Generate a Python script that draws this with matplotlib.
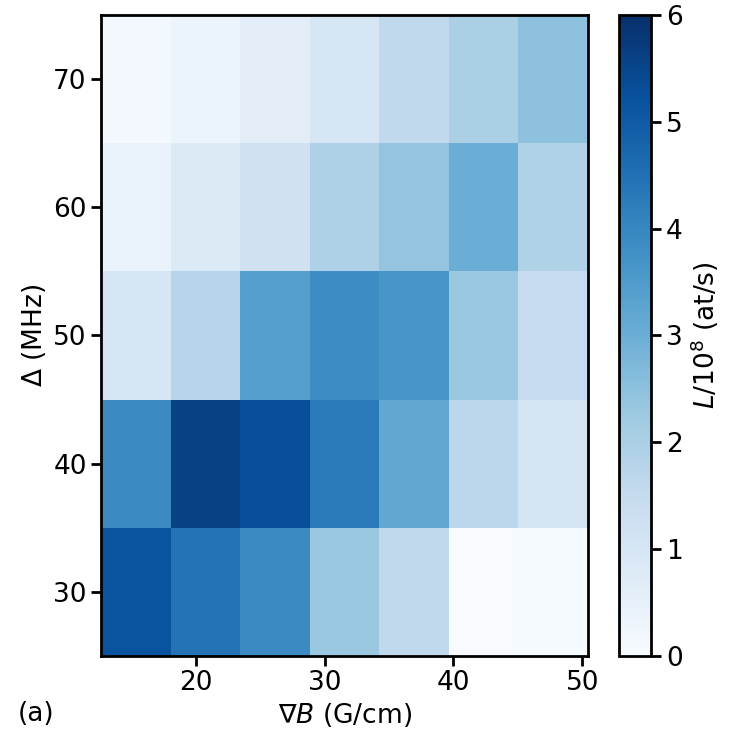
import numpy as np
import matplotlib
matplotlib.use('Agg')
import matplotlib.pyplot as plt

# field gradient (G/cm) bin centres and detuning (MHz) bin centres
grad_B = [15.35, 20.75, 26.15, 31.55, 36.95, 42.35, 47.75]
detuning = [30, 40, 50, 60, 70]

# loading rate L / 1e8 (at/s), rows = detuning (bottom to top)
L_30 = [5.2, 4.45, 3.9, 2.3, 1.6, 0.0, 0.05]
L_40 = [3.9, 5.6, 5.3, 4.3, 3.2, 1.7, 1.1]
L_50 = [1.0, 1.8, 3.4, 3.85, 3.65, 2.3, 1.5]
L_60 = [0.4, 0.8, 1.2, 1.95, 2.4, 3.0, 1.9]
L_70 = [0.15, 0.35, 0.65, 1.0, 1.6, 2.0, 2.5]

L = np.array([L_30, L_40, L_50, L_60, L_70])

# cell edges from centres
dx = grad_B[1] - grad_B[0]
x_edges = np.append(np.array(grad_B) - dx / 2, grad_B[-1] + dx / 2)
dy = detuning[1] - detuning[0]
y_edges = np.append(np.array(detuning) - dy / 2, detuning[-1] + dy / 2)

plt.rcParams['font.size'] = 19
plt.rcParams['axes.linewidth'] = 2

fig = plt.figure(figsize=(7.35, 7.53), dpi=100)
ax = fig.add_axes([0.138, 0.129, 0.662, 0.851])
cax = fig.add_axes([0.842, 0.129, 0.044, 0.851])

mesh = ax.pcolormesh(x_edges, y_edges, L, cmap='Blues', vmin=0, vmax=6)
ax.set_xticks([20, 30, 40, 50])
ax.set_yticks([30, 40, 50, 60, 70])
ax.tick_params(width=2, length=7)
ax.set_xlabel(r'$\nabla B$ (G/cm)', labelpad=3)
ax.set_ylabel(r'$\Delta$ (MHz)')
fig.text(0.024, 0.042, '(a)', fontsize=19)

cb = fig.colorbar(mesh, cax=cax)
cb.set_ticks([0, 1, 2, 3, 4, 5, 6])
cb.outline.set_linewidth(2)
cax.tick_params(width=2, length=7)
cb.set_label(r'$L/10^8$ (at/s)')

fig.savefig('out.png', dpi=100)
